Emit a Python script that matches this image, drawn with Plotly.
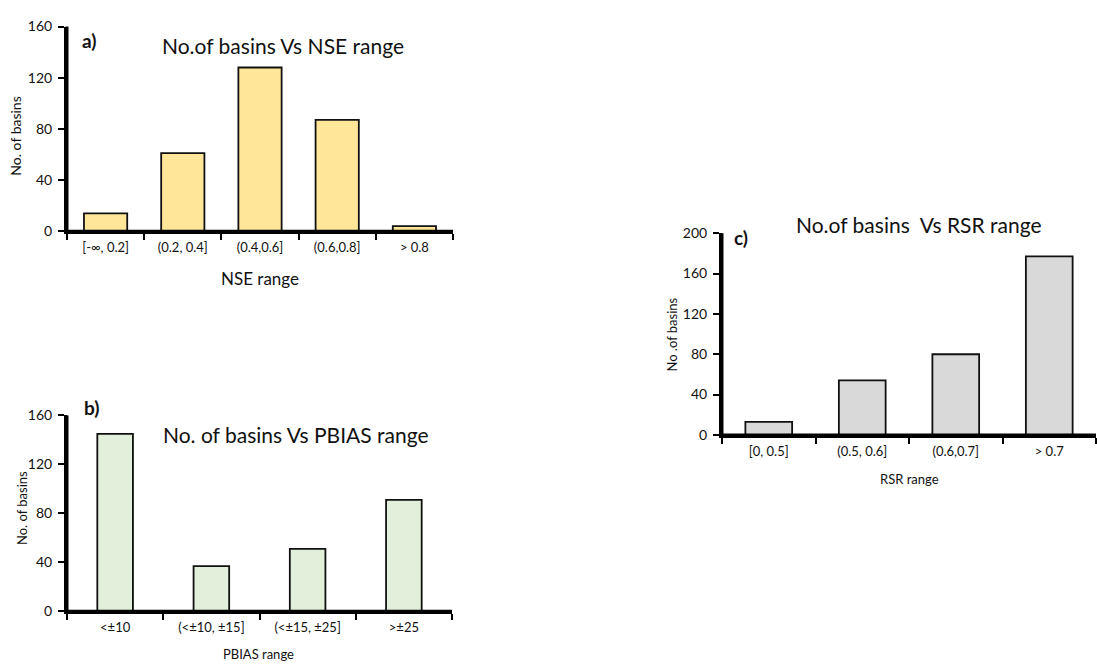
import plotly.graph_objects as go

W, H = 1097, 672

# ---- data ----
nse_cats = ["[-∞, 0.2]", "(0.2, 0.4]", "(0.4,0.6]", "(0.6,0.8]", "> 0.8"]
nse_vals = [14, 61, 128, 87, 4]

pbias_cats = ["<±10", "(<±10, ±15]", "(<±15, ±25]", ">±25"]
pbias_vals = [145, 37, 51, 91]

rsr_cats = ["[0, 0.5]", "(0.5, 0.6]", "(0.6,0.7]", "> 0.7"]
rsr_vals = [13, 54, 80, 177]

FONT = "Lato, 'Open Sans', sans-serif"
TXT = "#111111"


def px(x):
    return x / W


def py(y):
    return 1 - y / H


fig = go.Figure()
fig.add_trace(go.Bar(x=nse_cats, y=nse_vals, xaxis="x", yaxis="y",
                     marker=dict(color="#FFE699", line=dict(color="#111111", width=1.8)),
                     width=0.56, showlegend=False))
fig.add_trace(go.Bar(x=pbias_cats, y=pbias_vals, xaxis="x2", yaxis="y2",
                     marker=dict(color="#E2EFDA", line=dict(color="#111111", width=1.8)),
                     width=0.37, showlegend=False))
fig.add_trace(go.Bar(x=rsr_cats, y=rsr_vals, xaxis="x3", yaxis="y3",
                     marker=dict(color="#D9D9D9", line=dict(color="#111111", width=1.8)),
                     width=0.5, showlegend=False))


def xax(dom, anchor):
    return dict(domain=dom, anchor=anchor, showline=True, linewidth=3, linecolor="black",
                ticks="outside", tickson="boundaries", ticklen=6, tickwidth=2,
                tickcolor="black", showgrid=False, zeroline=False,
                tickfont=dict(family=FONT, size=13, color=TXT), ticklabelstandoff=2)


def yax(dom, anchor, rng):
    return dict(domain=dom, anchor=anchor, range=rng, showline=True, linewidth=3,
                linecolor="black", ticks="outside", ticklen=6, tickwidth=2,
                tickcolor="black", showgrid=False, zeroline=False, dtick=40,
                tickfont=dict(family=FONT, size=14, color=TXT), ticklabelstandoff=3)


fig.update_layout(
    width=W, height=H,
    margin=dict(l=0, r=0, t=0, b=0),
    paper_bgcolor="white", plot_bgcolor="white",
    xaxis=xax([px(67), px(453)], "y"),
    yaxis=yax([py(228), py(18)], "x", [0, 160]),
    xaxis2=xax([px(67), px(452)], "y2"),
    yaxis2=yax([py(618), py(417)], "x2", [0, 160]),
    xaxis3=xax([px(722), px(1096)], "y3"),
    yaxis3=yax([py(437), py(230)], "x3", [0, 200]),
)

# bold axis frame lines (bottom and left) in each subplot's domain space
for xs, ys in [("x", "y"), ("x2", "y2"), ("x3", "y3")]:
    fig.add_shape(type="line", xref=f"{xs} domain", yref=f"{ys} domain",
                  x0=0, x1=1, y0=0, y1=0, layer="above",
                  line=dict(color="black", width=3))
    fig.add_shape(type="line", xref=f"{xs} domain", yref=f"{ys} domain",
                  x0=0, x1=0, y0=0, y1=1, layer="above",
                  line=dict(color="black", width=3))


def ann(text, x, y, size, bold=False, angle=0):
    t = f"<b>{text}</b>" if bold else text
    fig.add_annotation(text=t, x=px(x), y=py(y), xref="paper", yref="paper",
                       showarrow=False, textangle=angle, xanchor="center", yanchor="middle",
                       font=dict(family=FONT, size=size, color=TXT))


# panel a
ann("a)", 89, 32, 19, bold=True)
ann("No.of basins Vs NSE range", 283, 37, 21)
ann("No. of basins", 16, 131, 14, angle=-90)
ann("NSE range", 260, 276, 17)

# panel b
ann("b)", 91, 409, 19, bold=True)
ann("No. of basins Vs PBIAS range", 296, 437, 21)
ann("No. of basins", 22, 512, 13, angle=-90)
ann("PBIAS range", 258, 662, 13)

# panel c
ann("c)", 741, 234, 19, bold=True)
ann("No.of basins  Vs RSR range", 919, 221, 21)
ann("No .of basins", 672, 334, 13, angle=-90)
ann("RSR range", 909, 482, 13)

fig.write_html("out.html")
